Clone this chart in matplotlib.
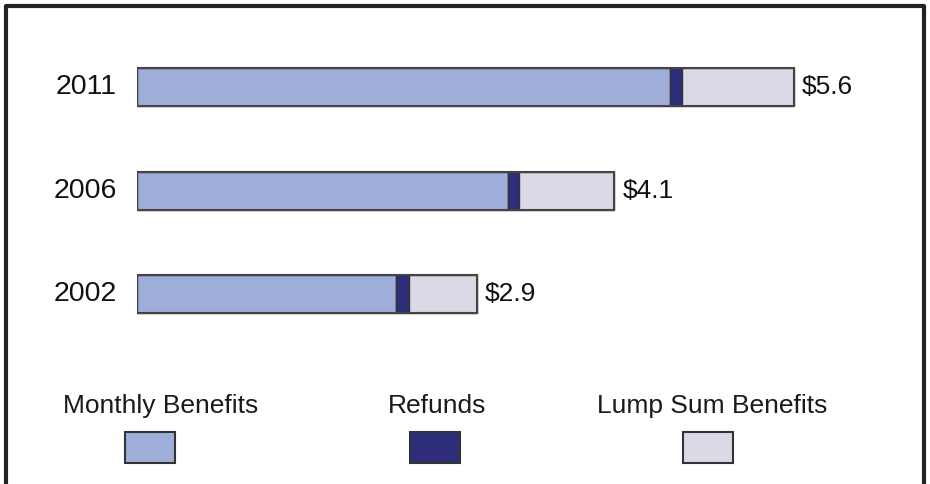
import matplotlib
matplotlib.use("Agg")
import matplotlib.pyplot as plt
from matplotlib.patches import Rectangle

plt.rcParams['font.family'] = ['Liberation Sans', 'DejaVu Sans']

years = ["2011", "2006", "2002"]
monthly = [4.54, 3.16, 2.21]
refunds = [0.11, 0.10, 0.11]
lump = [0.95, 0.81, 0.58]
totals = ["$5.6", "$4.1", "$2.9"]
series_names = ["Monthly Benefits", "Refunds", "Lump Sum Benefits"]
colors = ["#9eaed9", "#2d2d7c", "#dcd9e6"]
edge = "#333333"

W, H = 930, 484
fig = plt.figure(figsize=(W / 100, H / 100), dpi=100)

# frame around figure (no bottom edge)
frame = fig.add_axes([0, 0, 1, 1])
frame.set_xlim(0, W)
frame.set_ylim(H, 0)
frame.axis("off")
frame.plot([6, 6, 924, 924], [H + 5, 6, 6, H + 5], color="#222222", lw=3, solid_capstyle="butt")

px_per_unit = 117.3
row_px = 103.5
ax = fig.add_axes([137 / W, 0, (W - 137) / W, 1])
ax.set_xlim(0, (W - 137) / px_per_unit)
y0 = 87 / row_px
ax.set_ylim(H / row_px - y0, -y0)
ax.axis("off")

ypos = list(range(len(years)))
h = 38 / row_px
left = [0] * len(years)
for vals, c in zip([monthly, refunds, lump], colors):
    ax.barh(ypos, vals, left=left, height=h, color=c, edgecolor=edge, linewidth=1.0)
    left = [l + v for l, v in zip(left, vals)]
# outline of whole bar
for y, tot in zip(ypos, left):
    ax.barh(y, tot, height=h, fill=False, edgecolor="#444444", linewidth=1.5)

for y, yr, tot, lab in zip(ypos, years, left, totals):
    ax.annotate(yr, xy=(0, y), xytext=(-20, 0), textcoords="offset pixels",
                ha="right", va="center", fontsize=20.5, color="#111111")
    ax.annotate(lab, xy=(tot, y), xytext=(8, 0), textcoords="offset pixels",
                ha="left", va="center", fontsize=19, color="#111111")

# legend
text_centers = [161, 437, 712]
box_centers = [150, 435, 708]
for tx, bx, name, c in zip(text_centers, box_centers, series_names, colors):
    frame.text(tx, 406, name, ha="center", va="center", fontsize=19, color="#1a1a1a")
    frame.add_patch(Rectangle((bx - 25, 432), 50, 31, facecolor=c, edgecolor=edge, lw=1.5))

fig.savefig("out.png", dpi=100)
